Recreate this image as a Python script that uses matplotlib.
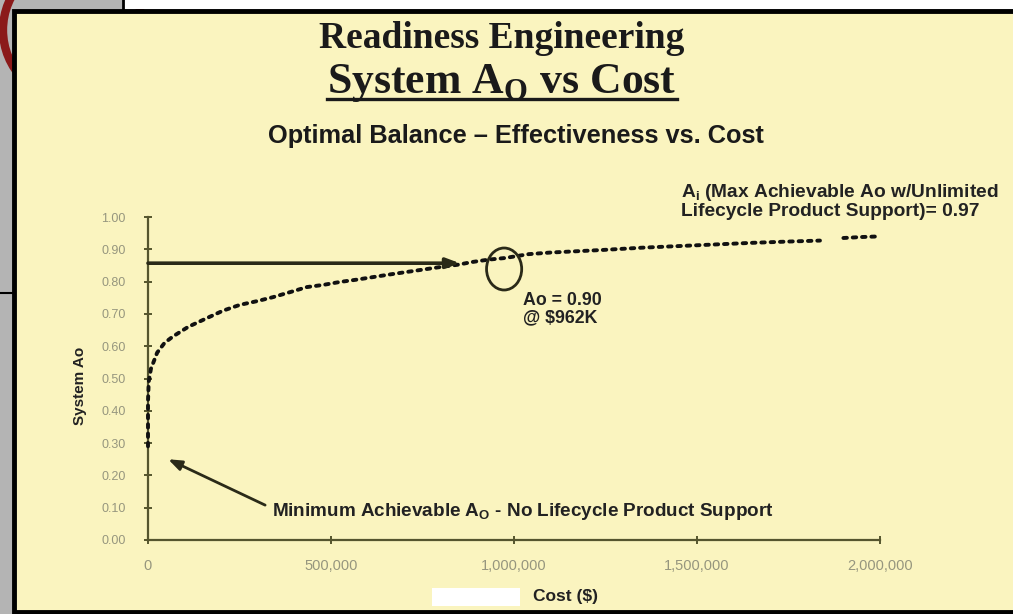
import matplotlib
matplotlib.use("Agg")
import matplotlib.pyplot as plt
from matplotlib.patches import Rectangle, Ellipse
from matplotlib.lines import Line2D
from matplotlib.ticker import FuncFormatter

# ---------------- data ----------------
cost_main = [0, 0, 0, 2e3, 8e3, 25e3, 45e3, 68e3, 110e3, 161e3, 205e3, 251e3,
             300e3, 342e3, 390e3, 434e3, 480e3, 525e3, 570e3, 615e3, 660e3,
             708e3, 750e3, 798e3, 845e3, 888e3, 930e3, 975e3, 1040e3, 1100e3,
             1243e3, 1350e3, 1450e3, 1550e3, 1650e3, 1750e3, 1836e3]
ao_main = [0.29, 0.36, 0.43, 0.49, 0.53, 0.58, 0.61, 0.63, 0.66, 0.687, 0.71,
           0.728, 0.74, 0.752, 0.768, 0.783, 0.79, 0.799, 0.806, 0.814, 0.822,
           0.83, 0.837, 0.845, 0.852, 0.861, 0.868, 0.873, 0.885, 0.89, 0.898,
           0.905, 0.91, 0.915, 0.92, 0.924, 0.927]
cost_tail = [1900e3, 1950e3, 2000e3]
ao_tail = [0.935, 0.938, 0.94]

y_ticks = [0.0, 0.1, 0.2, 0.3, 0.4, 0.5, 0.6, 0.7, 0.8, 0.9, 1.0]
x_ticks = [0, 500000, 1000000, 1500000, 2000000]

target_ao = 0.857          # horizontal arrow level
target_cost = 852e3        # arrow end
circle_cost, circle_ao = 973e3, 0.839
min_tip = (55e3, 0.25)
min_tail = (320e3, 0.108)

W, H = 1013, 614
YELLOW = "#FAF4BF"
OLIVE = "#55552E"
DARK = "#2A2A18"
TICKC = "#96967E"
TXT = "#222222"

fig = plt.figure(figsize=(W / 100, H / 100), dpi=100, facecolor="#B4B4B4")


def fx(x):
    return x / W


def fy(y):
    return 1 - y / H


# ---------------- background / slide frame ----------------
fig.patches.append(Ellipse((fx(73), fy(30)), 140 / W, 140 / H, transform=fig.transFigure,
                           fill=False, edgecolor="#8B1A1A", lw=6, zorder=0))
fig.patches.append(Rectangle((fx(123), fy(9)), fx(W - 123), 9 / H,
                             transform=fig.transFigure, facecolor="white",
                             edgecolor="none", zorder=0.5))
fig.lines.append(Line2D([fx(123), fx(123)], [fy(0), fy(9)], transform=fig.transFigure,
                        color="black", lw=2, zorder=0.6))
fig.lines.append(Line2D([fx(0), fx(12)], [fy(293), fy(293)], transform=fig.transFigure,
                        color="black", lw=1.5, zorder=0.6))
fig.patches.append(Rectangle((fx(14), fy(612)), fx(W - 14 + 5), (612 - 10.5) / H,
                             transform=fig.transFigure, facecolor=YELLOW,
                             edgecolor="black", lw=3.5, zorder=1))

# ---------------- axes ----------------
ax = fig.add_axes([fx(148), fy(540), fx(880) - fx(148), fy(217) - fy(540)])
ax.set_zorder(5)
ax.set_facecolor("none")
ax.set_xlim(0, 2000000)
ax.set_ylim(0, 1.0)
for s in ["top", "right"]:
    ax.spines[s].set_visible(False)
for s in ["left", "bottom"]:
    ax.spines[s].set_color(OLIVE)
    ax.spines[s].set_linewidth(1.6)
ax.set_yticks(y_ticks)
ax.set_xticks(x_ticks)
ax.yaxis.set_major_formatter(FuncFormatter(lambda v, p: f"{v:.2f}"))
ax.xaxis.set_major_formatter(FuncFormatter(lambda v, p: f"{int(v):,}"))
ax.tick_params(axis="both", direction="inout", length=6, width=1.4, color=OLIVE,
               labelcolor=TICKC)
ax.tick_params(axis="y", pad=13, labelsize=9)
ax.tick_params(axis="x", pad=11, labelsize=10.5)
for lab in ax.get_xticklabels() + ax.get_yticklabels():
    lab.set_family("Liberation Sans")

# curve (dotted)
for cx, cy in [(cost_main, ao_main), (cost_tail, ao_tail)]:
    ax.plot(cx, cy, color="#111111", lw=2.8, linestyle=(0, (0.9, 1.5)),
            dash_capstyle="round", clip_on=False, zorder=3)

# horizontal arrow
ax.annotate("", xy=(target_cost, target_ao), xytext=(0, target_ao),
            arrowprops=dict(arrowstyle="-|>,head_length=0.8,head_width=0.3",
                            color=DARK, lw=2.6, shrinkA=0, shrinkB=0),
            annotation_clip=False, zorder=4)
# ellipse marker
ax.add_patch(Ellipse((circle_cost, circle_ao), 96e3, 0.13, fill=False,
                     edgecolor=DARK, lw=2, zorder=5))
# minimum arrow
ax.annotate("", xy=min_tip, xytext=min_tail,
            arrowprops=dict(arrowstyle="-|>,head_length=0.8,head_width=0.3",
                            color=DARK, lw=2, shrinkA=0, shrinkB=0), zorder=4)

NARROW = ["Liberation Sans Narrow", "Liberation Sans"]

# annotations
fig.text(fx(272), fy(512), r"Minimum Achievable A$_\mathregular{O}$ - No Lifecycle Product Support",
         family=NARROW, weight="bold", fontsize=13.6, color=TXT, va="center", ha="left", zorder=6)
fig.text(fx(523), fy(309), "Ao = 0.90\n@ $962K", family=NARROW, weight="bold",
         fontsize=12.8, color=TXT, va="center", ha="left", linespacing=1.05, zorder=6)
fig.text(fx(681), fy(201), "A$_\\mathregular{i}$ (Max Achievable Ao w/Unlimited\nLifecycle Product Support)= 0.97",
         family=NARROW, weight="bold", fontsize=13.8, color=TXT, va="center",
         ha="left", linespacing=1.0, zorder=6)

# axis labels
fig.text(fx(80), fy(386), "System Ao", family=NARROW, weight="bold", fontsize=11,
         color=TXT, rotation=90, va="center", ha="center", zorder=6)
fig.patches.append(Rectangle((fx(432), fy(606)), fx(88), 18 / H, transform=fig.transFigure,
                             facecolor="white", edgecolor="none", zorder=2))
fig.text(fx(565), fy(597), "Cost ($)", family=NARROW, weight="bold", fontsize=12.5,
         color=TXT, va="center", ha="center", zorder=6)

# titles
fig.text(fx(502), fy(48), "Readiness Engineering", family="Liberation Serif",
         weight="bold", fontsize=27, color="#1a1a1a", va="baseline", ha="center", zorder=6)
t2 = fig.text(fx(502), fy(93), r"System A$_\mathregular{O}$ vs Cost", family="Liberation Serif",
              weight="bold", fontsize=31.5, color="#1a1a1a", va="baseline", ha="center", zorder=6)
fig.text(fx(516), fy(143), "Optimal Balance \u2013 Effectiveness vs. Cost", family=NARROW,
         weight="bold", fontsize=18.3, color="#1a1a1a", va="baseline", ha="center", zorder=6)

# underline for second title
fig.canvas.draw()
bb = t2.get_window_extent(renderer=fig.canvas.get_renderer())
uy = fy(98.5)
fig.lines.append(Line2D([bb.x0 / W, bb.x1 / W], [uy, uy], transform=fig.transFigure,
                        color="#1a1a1a", lw=2.4, zorder=7))

fig.savefig("out.png", dpi=100, facecolor=fig.get_facecolor())
